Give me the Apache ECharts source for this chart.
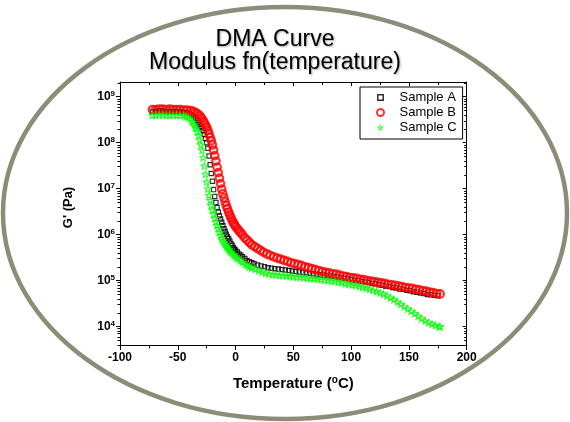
<!DOCTYPE html>
<html>
<head>
<meta charset="utf-8">
<script src="https://cdn.jsdelivr.net/npm/echarts@6/dist/echarts.min.js"></script>
<style>
html,body{margin:0;padding:0;background:#fff;}
#c{width:570px;height:422px;}
</style>
</head>
<body>
<div id="c"></div>
<script>
// ---- data (temperature in °C, G' in Pa) ----
const tempA = [-72,-69,-66,-63,-60,-57,-54,-51,-48,-45,-42,-40,-38,-36,-34.5,-33,-32,-31,-30,-29,-28,-27,-26,-25,-24,-23,-22,-21,-20,-19,-18,-17,-16,-15,-14,-13,-12,-11,-10,-9,-8,-7,-6,-5,-4,-3,-2,-1,0,1.5,3,4.5,6,8,10,12,14,16,19,22,25,28,31,34,37,40,43,46,49,52,55,58,61,64,67,70,73,76,79,82,85,88,91,94,97,100,103,106,109,112,115,118,121,124,127,130,133,136,139,142,145,148,151,154,157,160,163,166,169,172,175];
const modA = [4.79e8,4.79e8,4.90e8,4.90e8,4.79e8,4.79e8,4.79e8,4.79e8,4.68e8,4.57e8,4.47e8,4.27e8,4.07e8,3.72e8,3.39e8,3.02e8,2.75e8,2.51e8,2.29e8,2.09e8,1.82e8,1.51e8,1.23e8,1.00e8,7.59e7,5.13e7,3.31e7,2.14e7,1.45e7,9.55e6,6.76e6,5.01e6,3.89e6,3.09e6,2.57e6,2.19e6,1.86e6,1.58e6,1.35e6,1.17e6,1.02e6,8.91e5,8.13e5,7.24e5,6.46e5,5.89e5,5.25e5,4.90e5,4.57e5,4.17e5,3.80e5,3.55e5,3.31e5,3.02e5,2.75e5,2.57e5,2.45e5,2.34e5,2.19e5,2.09e5,2.00e5,1.91e5,1.86e5,1.82e5,1.78e5,1.74e5,1.70e5,1.66e5,1.62e5,1.58e5,1.55e5,1.51e5,1.48e5,1.45e5,1.41e5,1.38e5,1.35e5,1.32e5,1.29e5,1.26e5,1.23e5,1.20e5,1.15e5,1.12e5,1.10e5,1.05e5,1.02e5,1.00e5,9.55e4,9.33e4,9.12e4,8.71e4,8.51e4,8.13e4,7.94e4,7.59e4,7.41e4,7.08e4,6.92e4,6.61e4,6.46e4,6.17e4,6.03e4,5.75e4,5.62e4,5.37e4,5.25e4,5.01e4,4.90e4,4.79e4,4.68e4];

const tempB = [-72,-69,-66,-63,-60,-57,-54,-51,-48,-45,-42,-39,-37,-35,-33,-31,-29.5,-28,-27,-26,-25,-24,-23,-22,-21,-20,-19,-18,-17,-16,-15,-14,-13,-12,-11,-10,-9,-8,-7,-6,-5,-4,-3,-2,-1,0,1.5,3,4.5,6,8,10,12,14,16.5,19,21.5,24,27,30,33,36,39,42,45,48,51,54,57,60,63,66,69,72,75,78,81,84,87,90,93,96,99,102,105,108,111,114,117,120,123,126,129,132,135,138,141,144,147,150,153,156,159,162,165,168,171,174,177];
const modB = [5.25e8,5.25e8,5.37e8,5.37e8,5.25e8,5.37e8,5.25e8,5.25e8,5.25e8,5.13e8,5.13e8,5.01e8,4.79e8,4.57e8,4.27e8,3.89e8,3.47e8,3.02e8,2.69e8,2.40e8,2.14e8,1.86e8,1.58e8,1.32e8,1.10e8,8.91e7,6.92e7,5.25e7,3.98e7,2.95e7,2.24e7,1.70e7,1.29e7,9.77e6,7.76e6,6.31e6,5.13e6,4.27e6,3.63e6,3.09e6,2.69e6,2.34e6,2.04e6,1.82e6,1.66e6,1.51e6,1.35e6,1.20e6,1.10e6,9.77e5,8.51e5,7.59e5,6.76e5,6.03e5,5.50e5,5.01e5,4.57e5,4.17e5,3.80e5,3.55e5,3.31e5,3.09e5,2.95e5,2.75e5,2.63e5,2.45e5,2.34e5,2.24e5,2.14e5,2.00e5,1.91e5,1.82e5,1.74e5,1.66e5,1.58e5,1.51e5,1.48e5,1.41e5,1.38e5,1.32e5,1.26e5,1.23e5,1.17e5,1.15e5,1.12e5,1.07e5,1.05e5,1.00e5,9.77e4,9.55e4,9.12e4,8.91e4,8.71e4,8.32e4,8.13e4,7.94e4,7.59e4,7.41e4,7.08e4,6.92e4,6.76e4,6.46e4,6.31e4,6.03e4,5.89e4,5.62e4,5.50e4,5.25e4,5.13e4];

const tempC = [-72,-69,-66,-63,-60,-57,-54,-51,-48,-45,-43,-41,-39,-37.5,-36,-35,-34,-33,-32,-31,-30,-29,-28,-27,-26,-25,-24,-23,-22,-21,-20,-19,-18,-17,-16,-15,-14,-13,-12,-11,-10,-9,-8,-7,-6,-5,-4,-2.5,-1,0.5,2,4,6,8,10,12,14,17,20,23,26,29,32,35,38,41,44,47,50,53,56,59,62,65,68,71,74,77,80,83,86,89,92,95,98,101,104,107,110,113,116,119,122,125,128,131,134,137,140,143,146,149,152,155,158,161,164,167,170,173,176,177];
const modC = [3.98e8,3.98e8,4.07e8,4.07e8,3.98e8,3.98e8,3.98e8,3.98e8,3.98e8,3.89e8,3.72e8,3.55e8,3.24e8,2.88e8,2.51e8,2.29e8,2.04e8,1.78e8,1.45e8,1.15e8,9.12e7,6.92e7,4.79e7,3.16e7,2.09e7,1.41e7,1.00e7,7.24e6,5.62e6,4.37e6,3.47e6,2.82e6,2.29e6,1.91e6,1.58e6,1.35e6,1.15e6,9.77e5,8.51e5,7.59e5,6.76e5,6.17e5,5.62e5,5.25e5,4.79e5,4.47e5,4.17e5,3.80e5,3.47e5,3.24e5,3.02e5,2.75e5,2.51e5,2.29e5,2.14e5,2.00e5,1.91e5,1.78e5,1.66e5,1.55e5,1.48e5,1.41e5,1.38e5,1.35e5,1.32e5,1.29e5,1.29e5,1.26e5,1.23e5,1.20e5,1.20e5,1.17e5,1.15e5,1.12e5,1.12e5,1.10e5,1.07e5,1.05e5,1.02e5,1.00e5,9.77e4,9.33e4,9.12e4,8.71e4,8.51e4,8.13e4,7.94e4,7.59e4,7.24e4,6.92e4,6.61e4,6.17e4,5.89e4,5.50e4,5.13e4,4.68e4,4.27e4,3.89e4,3.47e4,3.09e4,2.75e4,2.45e4,2.19e4,1.95e4,1.70e4,1.51e4,1.35e4,1.23e4,1.15e4,1.07e4,1.02e4,1.00e4];

const seriesNames = ['Sample A', 'Sample B', 'Sample C'];
const xTickStep = 50;
const yTickExponents = [4, 5, 6, 7, 8, 9];

// ---- chart ----
const FONT = '"Liberation Sans", Arial, sans-serif';
const Y_MIN = 3.6, Y_MAX = 9.32;
const yMinorTicks = [];
for (let n = 3; n <= 9; n++) {
  for (let k = 2; k <= 9; k++) {
    const v = n + Math.log10(k);
    if (v >= Y_MIN && v <= Y_MAX) yMinorTicks.push(v);
  }
}
const toPts = (t, m) => t.map((x, i) => [x, Math.log10(m[i])]);
// hollow outlines drawn as rings (outer shape + reversed inner shape)
const SQUARE_RING = 'path://M0 0 L100 0 L100 100 L0 100 Z M22 22 L22 78 L78 78 L78 22 Z';
const STAR_RING = 'path://M50 0 L61.8 33.8 L97.6 34.5 L69 56.2 L79.4 90.5 L50 70 L20.6 90.5 L31 56.2 L2.4 34.5 L38.2 33.8 Z ' +
  'M50 32.5 L45.87 44.33 L33.34 44.58 L43.35 52.17 L39.71 64.18 L50 57 L60.29 64.18 L56.65 52.17 L66.66 44.58 L54.13 44.33 Z';

const axisLine = {show: true, onZero: false, lineStyle: {color: '#000', width: 1}};
const chart = echarts.init(document.getElementById('c'), null, {renderer: 'canvas'});
chart.setOption({
  animation: false,
  backgroundColor: '#fff',
  graphic: [{
    type: 'ellipse', z: -10,
    shape: {cx: 285, cy: 213, rx: 282, ry: 206},
    style: {fill: 'none', stroke: '#8c8c78', lineWidth: 4.5}
  }],
  title: {
    text: 'DMA Curve\nModulus fn(temperature)',
    left: 275, top: 28.5, padding: 0, textAlign: 'center',
    textStyle: {
      fontFamily: FONT, fontSize: 23, fontWeight: 'normal', color: '#000', lineHeight: 23,
      textShadowColor: 'rgba(0,0,0,0.35)', textShadowBlur: 2, textShadowOffsetX: 1, textShadowOffsetY: 1
    }
  },
  legend: {
    data: seriesNames,
    orient: 'vertical',
    left: 360, top: 87,
    padding: [3, 6, 4, 16],
    itemWidth: 28, itemHeight: 7, itemGap: 0,
    symbolKeepAspect: true,
    borderColor: '#000', borderWidth: 1, borderRadius: 0,
    backgroundColor: '#fff',
    textStyle: {fontFamily: FONT, fontSize: 13, color: '#000', lineHeight: 15}
  },
  grid: {left: 120, right: 103.3, top: 82, bottom: 77},
  xAxis: [{
    type: 'value', position: 'bottom', min: -100, max: 200, interval: xTickStep,
    axisLine: axisLine,
    axisTick: {show: true, inside: false, length: 5, lineStyle: {color: '#000'}},
    minorTick: {show: true, splitNumber: 2, length: 3.5, lineStyle: {color: '#000'}},
    splitLine: {show: false},
    axisLabel: {fontFamily: FONT, fontSize: 12, fontWeight: 'bold', color: '#000', margin: 7},
    name: '{n|Temperature (}{s|o}{n|C)}',
    nameLocation: 'middle', nameGap: 30,
    nameTextStyle: {
      rich: {
        n: {fontFamily: FONT, fontSize: 15, fontWeight: 'bold', color: '#000', lineHeight: 17},
        s: {fontFamily: FONT, fontSize: 10, fontWeight: 'bold', color: '#000', lineHeight: 7, verticalAlign: 'top'}
      }
    }
  }, {
    type: 'value', position: 'top', min: -100, max: 200, interval: xTickStep,
    axisLine: axisLine,
    axisTick: {show: true, inside: true, length: 4, lineStyle: {color: '#000'}},
    minorTick: {show: true, splitNumber: 2, length: 3, lineStyle: {color: '#000'}},
    splitLine: {show: false},
    axisLabel: {show: false}
  }],
  yAxis: [{
    type: 'value', position: 'left', min: Y_MIN, max: Y_MAX,
    axisLine: axisLine,
    axisTick: {show: true, inside: false, length: 4, customValues: yTickExponents, lineStyle: {color: '#000'}},
    splitLine: {show: false},
    axisLabel: {
      customValues: yTickExponents, margin: 5,
      formatter: v => '{b|10}{s|' + v + '}',
      rich: {
        b: {fontFamily: FONT, fontSize: 12, fontWeight: 'bold', color: '#000', lineHeight: 14},
        s: {fontFamily: FONT, fontSize: 8, fontWeight: 'bold', color: '#000', lineHeight: 6, verticalAlign: 'top'}
      }
    },
    name: "G' (Pa)", nameLocation: 'middle', nameGap: 45,
    nameTextStyle: {fontFamily: FONT, fontSize: 13, fontWeight: 'bold', color: '#000', padding: [0, 0, 0, 12]}
  }, {
    type: 'value', position: 'left', min: Y_MIN, max: Y_MAX,
    axisLine: {show: false, onZero: false},
    axisTick: {show: true, inside: false, length: 2.5, customValues: yMinorTicks, lineStyle: {color: '#000'}},
    splitLine: {show: false},
    axisLabel: {show: false}
  }, {
    type: 'value', position: 'right', min: Y_MIN, max: Y_MAX,
    axisLine: axisLine,
    axisTick: {show: true, inside: true, length: 4, customValues: yTickExponents, lineStyle: {color: '#000'}},
    splitLine: {show: false},
    axisLabel: {show: false}
  }, {
    type: 'value', position: 'right', min: Y_MIN, max: Y_MAX,
    axisLine: {show: false, onZero: false},
    axisTick: {show: true, inside: true, length: 2.5, customValues: yMinorTicks, lineStyle: {color: '#000'}},
    splitLine: {show: false},
    axisLabel: {show: false}
  }],
  series: [{
    name: seriesNames[0], type: 'scatter', symbol: SQUARE_RING, symbolSize: 5.5, symbolKeepAspect: true,
    itemStyle: {color: '#000', borderWidth: 0},
    data: toPts(tempA, modA)
  }, {
    name: seriesNames[1], type: 'scatter', symbol: 'circle', symbolSize: 7.5,
    itemStyle: {color: 'rgba(255,255,255,0)', borderColor: '#ff0000', borderWidth: 2.2},
    data: toPts(tempB, modB)
  }, {
    name: seriesNames[2], type: 'scatter', symbol: STAR_RING, symbolSize: 10, symbolKeepAspect: true,
    itemStyle: {color: '#00ff00', borderWidth: 0},
    data: toPts(tempC, modC)
  }]
});
</script>
</body>
</html>
